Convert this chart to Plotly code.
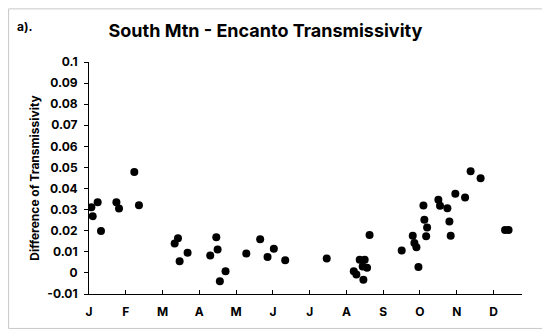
import plotly.graph_objects as go

# day of year (x) and difference of transmissivity (y)
days = [2.0, 3.1, 7.3, 10.1, 23.1, 25.3, 38.2, 42.1,
        72.2, 75.0, 76.4, 83.1, 102.2, 107.3, 108.4, 110.3, 115.1,
        132.6, 144.3, 150.5, 155.8, 165.4, 200.4,
        223.2, 225.4, 228.2, 230.7, 231.3, 232.4, 234.4, 236.5,
        263.6, 272.9, 274.3, 276.0, 277.7, 281.9, 282.7, 284.2, 285.0,
        294.5, 295.9, 302.1, 303.8, 304.9, 308.8, 317.0, 321.7, 330.1,
        350.7, 353.7]
diff = [0.0311, 0.0269, 0.0335, 0.0199, 0.0335, 0.0305, 0.0478, 0.0321,
        0.0139, 0.0164, 0.0055, 0.0096, 0.0082, 0.0169, 0.0111, -0.0040, 0.0008,
        0.0092, 0.0160, 0.0076, 0.0114, 0.0060, 0.0068,
        0.0008, -0.0007, 0.0062, 0.0030, -0.0032, 0.0062, 0.0024, 0.0180,
        0.0106, 0.0176, 0.0142, 0.0122, 0.0028, 0.0320, 0.0252, 0.0174, 0.0215,
        0.0347, 0.0318, 0.0307, 0.0244, 0.0176, 0.0375, 0.0357, 0.0482, 0.0449,
        0.0204, 0.0204]

month_ticks = [0, 31, 62, 93, 124, 155, 186, 217, 248, 279, 310, 341]
month_labels = ["J", "F", "M", "A", "M", "J", "J", "A", "S", "O", "N", "D"]
y_ticks = [-0.01, 0, 0.01, 0.02, 0.03, 0.04, 0.05, 0.06, 0.07, 0.08, 0.09, 0.1]

FONT = "Inter"

fig = go.Figure(go.Scatter(
    x=days, y=diff, mode="markers",
    marker=dict(color="black", size=8),
))

# the page body has an 8px margin, so the figure is sized/offset to allow for it
fig.update_layout(
    width=542, height=327,
    margin=dict(l=81, r=28, t=54, b=41),
    paper_bgcolor="white", plot_bgcolor="white",
    showlegend=False,
    font=dict(family=FONT, color="black"),
    title=dict(text="<b>South Mtn - Encanto Transmissivity</b>",
               x=0.475, xanchor="center", y=0.932, yanchor="middle",
               font=dict(size=18, family=FONT, color="black")),
)

fig.update_xaxes(
    range=[0, 365], tickvals=month_ticks,
    ticktext=["<b>%s</b>" % m for m in month_labels],
    showgrid=False, zeroline=False,
    showline=True, linecolor="black", linewidth=1,
    ticks="inside", ticklen=4, tickcolor="black",
    ticklabelstandoff=7,
    tickfont=dict(size=12, family=FONT, color="black"),
)
fig.update_yaxes(
    range=[-0.01, 0.1], tickvals=y_ticks,
    ticktext=["<b>%g</b>" % v for v in y_ticks],
    showgrid=False, zeroline=False,
    showline=True, linecolor="black", linewidth=1,
    ticks="outside", ticklen=4, tickcolor="black",
    ticklabelstandoff=4,
    tickfont=dict(size=12, family=FONT, color="black"),
    title=dict(text="<b>Difference of Transmissivity</b>",
               font=dict(size=12, family=FONT, color="black"), standoff=5),
)

fig.add_annotation(
    text="<b>a).</b>", xref="paper", yref="paper",
    x=-0.172, y=1.155, xanchor="left", yanchor="middle",
    showarrow=False, font=dict(size=12, family=FONT, color="black"),
)

# thin grey frame around the whole chart
fig.add_shape(
    type="rect", xref="paper", yref="paper",
    x0=-0.1857, x1=1.0475, y0=-0.1485, y1=1.229,
    line=dict(color="#c8c8c8", width=1),
)

fig.write_html("out.html")
